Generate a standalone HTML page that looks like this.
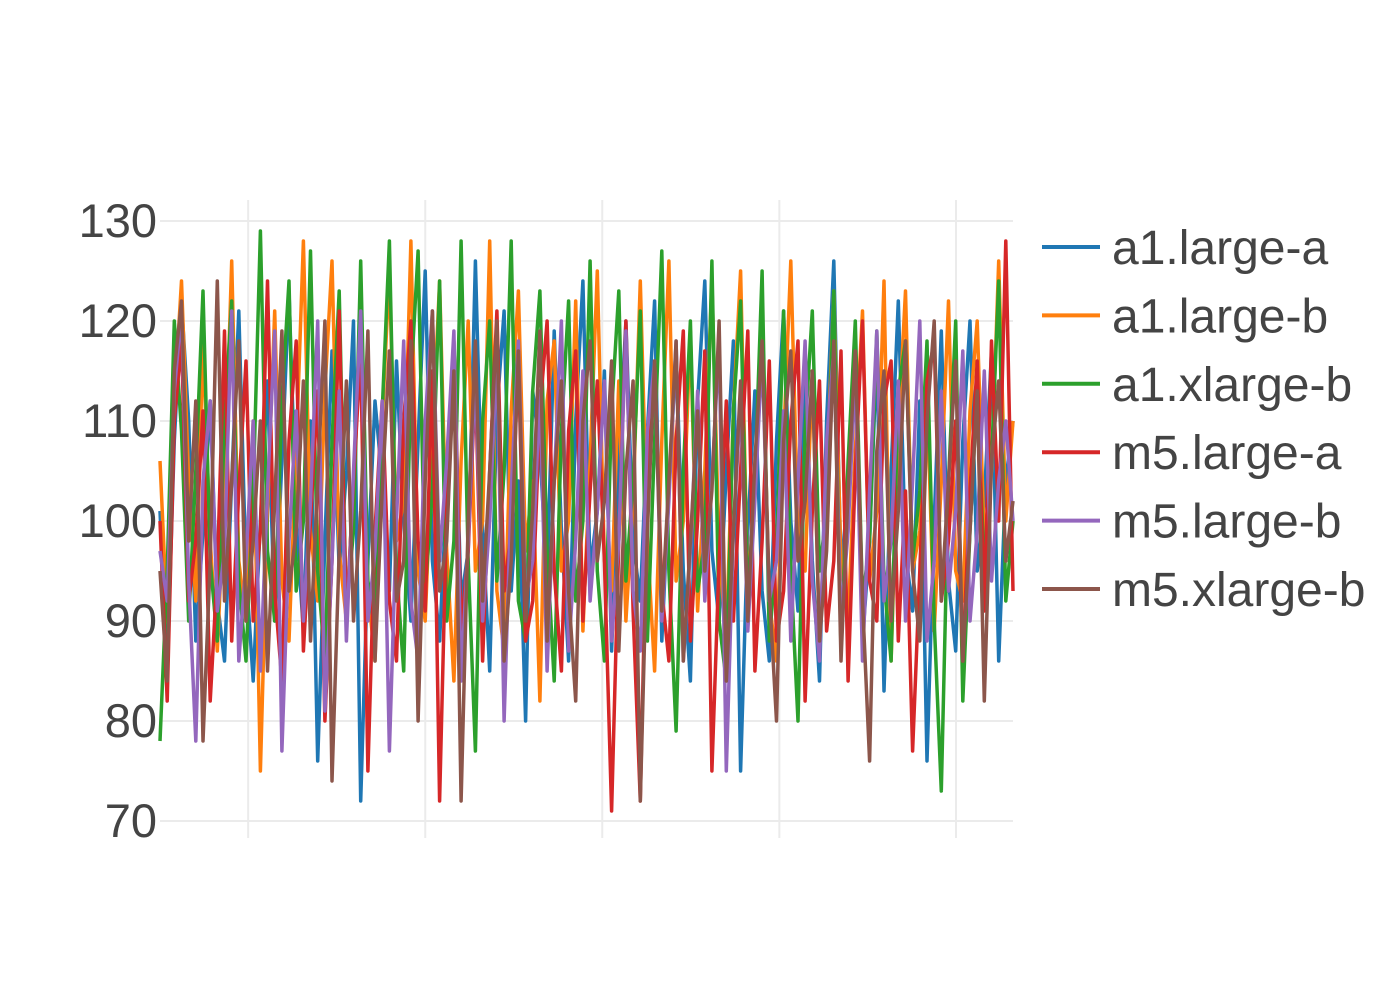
<!DOCTYPE html>
<html><head><meta charset="utf-8"><style>
html,body{margin:0;padding:0;background:#fff;}
svg text{font-family:"Liberation Sans",sans-serif;fill:#444;}
</style></head><body>
<svg id="chart" width="1400" height="1000" xmlns="http://www.w3.org/2000/svg">
<g id="grid"></g>
<g id="yticks"></g>
<g id="lines"></g>
<g id="legend"></g>
</svg>
<script>
const seriesNames = ["a1.large-a","a1.large-b","a1.xlarge-b","m5.large-a","m5.large-b","m5.xlarge-b"];
const colors = ["#1f77b4","#ff7f0e","#2ca02c","#d62728","#9467bd","#8c564b"];
const yTicks = [70,80,90,100,110,120,130];
const xGridTicks = [12.3,37.0,61.7,86.4,111.05];
const s0 = [101,85,108,122,110,88,99,112,92,86,104,121,95,84,100,114,90,106,123,100,89,110,76,98,117,95,105,120,72,96,112,104,93,116,100,90,108,125,96,88,103,117,92,97,126,99,85,111,121,93,104,80,113,107,94,119,99,86,110,124,95,101,115,87,106,120,98,92,109,122,88,103,117,95,84,112,124,97,90,105,118,75,99,113,93,86,108,121,100,91,116,96,84,110,126,95,103,118,88,98,117,83,105,122,97,91,112,76,100,119,94,87,108,120,95,102,117,86,104,110];
const s1 = [106,90,112,124,104,92,118,98,87,103,126,96,90,110,75,101,121,94,88,107,128,99,92,113,126,97,90,104,121,93,86,110,125,98,102,128,95,90,108,124,97,84,106,120,95,100,128,93,87,111,123,97,104,82,112,118,95,100,122,89,106,125,96,93,114,90,102,124,98,85,108,126,94,100,119,91,105,124,97,88,111,125,93,103,119,92,86,108,126,99,95,115,88,104,123,96,90,107,121,94,101,124,86,109,123,95,99,113,89,104,122,95,92,111,120,98,105,126,100,110];
const s2 = [78,95,120,109,90,105,123,96,88,110,122,94,86,103,129,97,90,112,124,93,100,127,95,86,108,123,91,99,126,94,89,111,128,95,85,114,127,93,103,124,90,98,128,96,77,110,120,94,105,128,92,88,113,123,97,84,109,122,92,100,126,95,86,111,123,94,104,121,88,108,127,95,79,105,120,93,98,126,90,84,111,122,92,104,125,88,97,121,95,80,109,121,95,101,123,87,106,120,92,98,119,94,86,113,118,96,103,118,90,73,104,120,82,99,113,95,106,124,92,100];
const s3 = [100,82,110,118,92,98,111,82,95,119,88,103,116,90,99,124,93,84,108,118,87,100,113,80,96,121,90,104,117,75,99,112,92,86,110,120,98,91,115,72,101,118,89,97,114,86,105,121,93,99,116,88,92,111,120,95,85,109,117,90,103,114,96,71,98,120,91,72,104,116,93,86,108,119,88,100,117,75,96,112,90,105,119,85,98,116,88,93,110,118,82,101,114,89,96,117,84,105,120,94,90,112,116,88,103,77,95,114,118,92,98,110,86,103,116,91,118,100,128,93];
const s4 = [97,92,113,121,94,78,104,112,91,97,121,86,96,110,85,103,119,77,98,111,90,102,120,81,96,113,88,105,121,90,97,112,77,100,118,92,86,110,121,96,106,119,84,98,115,90,100,117,80,103,118,92,96,113,85,104,120,87,98,115,92,101,114,88,98,119,93,87,109,116,90,102,118,86,97,113,92,104,118,75,99,112,89,102,117,92,96,111,88,104,118,94,86,108,117,90,99,115,86,103,119,92,98,114,90,104,120,88,96,113,93,101,117,90,99,115,94,104,110,100];
const s5 = [95,84,115,122,98,112,78,96,124,92,104,118,90,98,110,85,102,119,93,99,114,88,104,120,74,97,114,90,101,119,86,103,117,92,96,118,80,104,121,93,98,115,72,100,118,92,105,120,86,96,117,90,101,119,88,104,114,93,82,110,118,96,102,116,87,105,114,72,99,116,91,104,118,86,98,111,95,103,120,84,99,114,90,106,118,93,80,108,117,96,102,115,88,97,118,86,103,117,92,76,107,115,90,101,118,95,88,110,120,92,104,116,86,99,113,82,106,114,96,102];
const allSeries = [s0,s1,s2,s3,s4,s5];

const X0=160, X1=1013, Y0=821, Y1=221;
const N = s0.length;
const xScale = i => X0 + i*(X1-X0)/(N-1);
const yScale = v => Y0 - (v-70)*(Y0-Y1)/60;
const NS="http://www.w3.org/2000/svg";
const grid=document.getElementById('grid'), yt=document.getElementById('yticks'), lines=document.getElementById('lines'), leg=document.getElementById('legend');

yTicks.forEach(t=>{
  const l=document.createElementNS(NS,'line');
  
  
  l.setAttribute('x1',X0);l.setAttribute('x2',X1);l.setAttribute('y1',yScale(t));l.setAttribute('y2',yScale(t));
  l.setAttribute('stroke','#ebebeb');l.setAttribute('stroke-width','2');
  grid.appendChild(l);
  const tx=document.createElementNS(NS,'text');
  
  
  tx.setAttribute('x',157);tx.setAttribute('y',yScale(t)+16);tx.setAttribute('text-anchor','end');tx.setAttribute('font-size','47');
  tx.textContent=t;
  yt.appendChild(tx);
});
xGridTicks.forEach(v=>{
  const l=document.createElementNS(NS,'line');
  
  
  const x=xScale(v);
  l.setAttribute('x1',x);l.setAttribute('x2',x);l.setAttribute('y1',200);l.setAttribute('y2',838);
  l.setAttribute('stroke','#ebebeb');l.setAttribute('stroke-width','2');
  grid.appendChild(l);
});
allSeries.forEach((s,k)=>{
  const p=document.createElementNS(NS,'path');
  
  
  p.setAttribute('d',s.map((v,i)=>(i?'L':'M')+xScale(i).toFixed(1)+','+yScale(v).toFixed(1)).join(''));
  p.setAttribute('fill','none');p.setAttribute('stroke',colors[k]);p.setAttribute('stroke-width','3.5');p.setAttribute('stroke-linejoin','round');
  lines.appendChild(p);
  const y=247+k*68.4;
  const g=document.createElementNS(NS,'g');
  
  
  const l=document.createElementNS(NS,'line');
  l.setAttribute('x1',1042);l.setAttribute('x2',1100);l.setAttribute('y1',y);l.setAttribute('y2',y);
  l.setAttribute('stroke',colors[k]);l.setAttribute('stroke-width','4');
  g.appendChild(l);
  const t=document.createElementNS(NS,'text');
  t.setAttribute('x',1112);t.setAttribute('y',y+17);t.setAttribute('font-size','48');
  t.textContent=seriesNames[k];
  g.appendChild(t);
  leg.appendChild(g);
});
</script>
</body></html>
